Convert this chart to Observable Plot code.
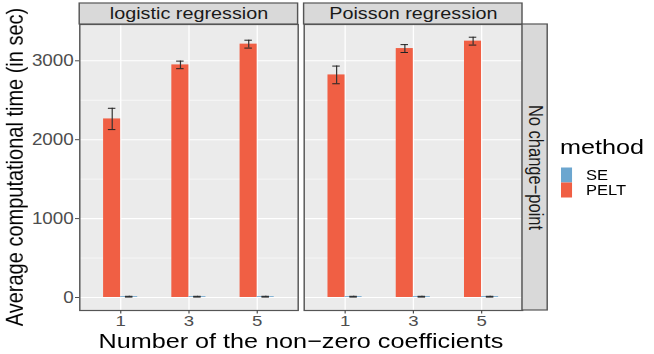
<!DOCTYPE html>
<html><head><meta charset="utf-8">
<script src="https://cdn.jsdelivr.net/npm/d3@7"></script>
<script src="https://cdn.jsdelivr.net/npm/@observablehq/plot@0.6"></script>
<style>
html,body{margin:0;padding:0;background:#fff;overflow:hidden}
#wrap{width:545px;height:354px;transform:scaleX(1.2);transform-origin:0 0;}
#wrap svg text{font-family:"Liberation Sans", Arial, Helvetica, sans-serif}
</style></head><body><div id="wrap"></div>
<script>
const facets = ["logistic regression", "Poisson regression"];
const coefLabels = ["1", "3", "5"];
const methods = ["SE", "PELT"];
const methodColors = ["#6CA6CF", "#F05F44"];
const peltLogistic = [2263, 2948, 3211];
const peltLogisticErr = [135, 48, 50];
const peltPoisson = [2821, 3155, 3249];
const peltPoissonErr = [112, 50, 50];
const seLogistic = [10, 10, 10];
const seLogisticErr = [5, 5, 5];
const sePoisson = [10, 10, 10];
const sePoissonErr = [5, 5, 5];
const yMajor = [0, 1000, 2000, 3000];
const yMinor = [500, 1500, 2500];
const rowLabel = "No change\u2212point";
const xTitle = "Number of the non\u2212zero coefficients";
const yTitle = "Average computational time (in sec)";
const legendTitle = "method";

const series = [
  {facet: facets[0], method: "PELT", values: peltLogistic, err: peltLogisticErr},
  {facet: facets[0], method: "SE", values: seLogistic, err: seLogisticErr},
  {facet: facets[1], method: "PELT", values: peltPoisson, err: peltPoissonErr},
  {facet: facets[1], method: "SE", values: sePoisson, err: sePoissonErr}
];
const rows = series.flatMap(s => s.values.map((v, i) => ({facet: s.facet, method: s.method, pos: i + 1, value: v, err: s.err[i]})));

// layout (unstretched coordinate system, stretched by 1.2 horizontally)
const W = 545, H = 354, mL = 66.3, mT = 24, mB = 44, inner = 369, gap = 5;
const panelW = (inner - gap) / 2;
const mR = W - mL - inner;
const dodge = {PELT: -0.25, SE: 0};
const barW = 0.25, whisk = 0.055;
const center = d => d.pos + dodge[d.method] + barW / 2;
const positions = coefLabels.map((_, i) => i + 1);

const plot = Plot.plot({
  width: W, height: H,
  marginLeft: mL, marginRight: mR, marginTop: mT, marginBottom: mB,
  style: {background: "white", fontFamily: "Liberation Sans, Arial, sans-serif", overflow: "visible"},
  fx: {domain: facets, paddingInner: gap / (panelW + gap), paddingOuter: 0, axis: null, label: null},
  x: {domain: [0.4, 3.6]},
  y: {domain: [-165, 3460]},
  color: {domain: methods, range: methodColors},
  marks: [
    Plot.frame({fill: "#EBEBEB"}),
    Plot.ruleY(yMinor, {stroke: "white", strokeWidth: 0.55}),
    Plot.ruleY(yMajor, {stroke: "white", strokeWidth: 1.1}),
    Plot.ruleX(positions, {stroke: "white", strokeWidth: 1.1}),
    Plot.rect(rows, {fx: "facet", x1: d => d.pos + dodge[d.method], x2: d => d.pos + dodge[d.method] + barW, y1: () => 0, y2: "value", fill: "method"}),
    Plot.ruleX(rows, {fx: "facet", x: center, y1: d => d.value - d.err, y2: d => d.value + d.err, stroke: "#333", strokeWidth: 1}),
    Plot.ruleY(rows, {fx: "facet", y: d => d.value + d.err, x1: d => center(d) - whisk, x2: d => center(d) + whisk, stroke: "#222", strokeWidth: 1}),
    Plot.ruleY(rows, {fx: "facet", y: d => d.value - d.err, x1: d => center(d) - whisk, x2: d => center(d) + whisk, stroke: "#222", strokeWidth: 1}),
    Plot.frame({stroke: "#555", strokeWidth: 1.2}),
    Plot.rect(facets, {fx: d => d, insetTop: -21, insetBottom: H - mT - mB, fill: "#D9D9D9", stroke: "#555", strokeWidth: 1.2}),
    Plot.text(facets, {fx: d => d, text: d => d, frameAnchor: "top", textAnchor: "middle", lineAnchor: "middle", dy: -10.5, fontSize: 16.5, fill: "#1A1A1A"}),
    Plot.rect([facets[1]], {fx: d => d, insetLeft: panelW, insetRight: -21, fill: "#D9D9D9", stroke: "#555", strokeWidth: 1.2}),
    Plot.text([facets[1]], {fx: d => d, text: () => rowLabel, frameAnchor: "right", textAnchor: "middle", lineAnchor: "middle", dx: 10.5, rotate: 90, fontSize: 16.5, fill: "#1A1A1A"}),
    Plot.axisY({ticks: yMajor, tickFormat: d => String(d), tickSize: 3.5, tickPadding: 1.5, fontSize: 15.7, color: "#4D4D4D", label: null}),
    Plot.axisX({ticks: positions, tickFormat: i => coefLabels[i - 1], tickSize: 3.5, tickPadding: 0.5, fontSize: 15.5, color: "#4D4D4D", label: null})
  ]
});

const svg = d3.select(plot);
svg.append("text").attr("x", mL + inner / 2).attr("y", 347.8).attr("text-anchor", "middle")
  .attr("font-size", 21).attr("fill", "#000").text(xTitle);
svg.append("text").attr("transform", `translate(19,${mT + (H - mT - mB) / 2}) rotate(-90)`)
  .attr("text-anchor", "middle").attr("font-size", 20).attr("fill", "#000").text(yTitle);
const color = plot.scale("color");
const lg = svg.append("g").attr("text-anchor", "start");
lg.append("text").attr("x", 466.7).attr("y", 154).attr("font-size", 21).attr("fill", "#000").text(legendTitle);
const keyH = 15;
methods.forEach((m, i) => {
  lg.append("rect").attr("x", 467.5).attr("y", 167.5 + i * keyH).attr("width", 9.2).attr("height", keyH).attr("fill", color.apply(m));
  lg.append("text").attr("x", 488.3).attr("y", 167.5 + keyH / 2 + i * keyH).attr("dy", "0.35em").attr("font-size", 13.8).attr("fill", "#000").text(m);
});
document.getElementById("wrap").appendChild(plot);
</script></body></html>
